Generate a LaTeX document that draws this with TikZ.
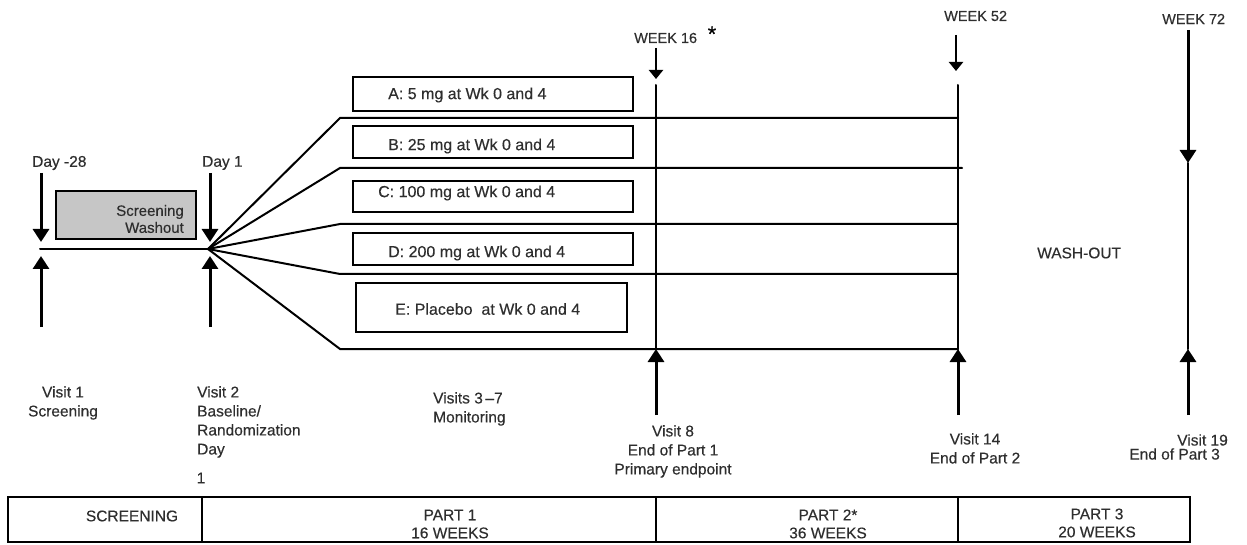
\documentclass[tikz,border=0pt]{standalone}
\usepackage{fontspec}
\setmainfont{Liberation Sans}[FakeBold=0.35]
\usetikzlibrary{arrows.meta}
\begin{document}
\begin{tikzpicture}[x=1pt,y=-1pt,
  ln/.style={line width=2pt, line cap=round},
  bigarrow/.style={line width=3pt,-{Triangle[length=13pt,width=16pt]}},
  smallarrow/.style={line width=2.6pt,-{Triangle[length=9pt,width=14pt]}},
  txt/.style={font=\fontsize{15.5}{19}\selectfont, text=black!82, inner sep=0pt},
  wtxt/.style={font=\fontsize{14.5}{16}\selectfont, text=black!82, inner sep=0pt},
  btxt/.style={font=\fontsize{16}{18}\selectfont, text=black!82, inner sep=0pt},
  armbox/.style={draw, line width=2pt, inner sep=0pt},
  tabtxt/.style={font=\fontsize{15.5}{18}\selectfont, text=black!82, inner sep=0pt, align=center}]
\useasboundingbox (0,0) rectangle (1247,545);

% ---- coordinates
\coordinate (start) at (40,249);
\coordinate (hub) at (208,249);
\coordinate (fA) at (340,118); \coordinate (eA) at (958,118);
\coordinate (fB) at (340,168); \coordinate (eB) at (962,168);
\coordinate (fC) at (340,224); \coordinate (eC) at (958,224);
\coordinate (fD) at (340,274); \coordinate (eD) at (958,274);
\coordinate (fE) at (340,349); \coordinate (eE) at (958,349);

% ---- main lines
\draw[ln] (start) -- (hub);
\draw[ln] (hub) -- (fA) -- (eA);
\draw[ln] (hub) -- (fB) -- (eB);
\draw[ln] (hub) -- (fC) -- (eC);
\draw[ln] (hub) -- (fD) -- (eD);
\draw[ln] (hub) -- (fE) -- (eE);

% ---- screening washout box
\node[armbox, fill=gray!45, minimum width=140pt, minimum height=48pt] (swbox) at (126,215) {};
\node[txt, align=right, anchor=east, font=\fontsize{15}{17}\selectfont] (swtxt) at (184,219) {Screening\\Washout};

% ---- arm boxes
\node[armbox, minimum width=280pt, minimum height=34pt] (boxA) at (493,94) {};
\node[btxt, anchor=west] (tA) at (388,95) {A: 5 mg at Wk 0 and 4};
\node[armbox, minimum width=280pt, minimum height=32pt] (boxB) at (493,142) {};
\node[btxt, anchor=west] (tB) at (388,146) {B: 25 mg at Wk 0 and 4};
\node[armbox, minimum width=280pt, minimum height=31pt] (boxC) at (493,196.5) {};
\node[btxt, anchor=west] (tC) at (378,193) {C: 100 mg at Wk 0 and 4};
\node[armbox, minimum width=280pt, minimum height=32pt] (boxD) at (493,249) {};
\node[btxt, anchor=west] (tD) at (388,253) {D: 200 mg at Wk 0 and 4};
\node[armbox, minimum width=271pt, minimum height=49pt] (boxE) at (491.5,307.5) {};
\node[btxt, anchor=west] (tE) at (395,309) {E: Placebo\ \ at Wk 0 and 4};

% ---- day arrows
\node[txt, anchor=west] (d28) at (32,163) {Day -28};
\coordinate (d28a) at (41,173); \coordinate (d28b) at (41,242);
\coordinate (d28c) at (41,327); \coordinate (d28d) at (41,256);
\draw[bigarrow] (d28a) -- (d28b);
\draw[bigarrow] (d28c) -- (d28d);
\node[txt, anchor=west] (d1) at (202,163) {Day 1};
\coordinate (d1a) at (210,173); \coordinate (d1b) at (210,242);
\coordinate (d1c) at (210,327); \coordinate (d1d) at (210,256);
\draw[bigarrow] (d1a) -- (d1b);
\draw[bigarrow] (d1c) -- (d1d);

% ---- week 16
\node[wtxt, anchor=west] (w16) at (634,38) {WEEK 16};
\node[inner sep=0pt, font=\fontsize{22}{22}\selectfont] (ast) at (712,34) {*};
\coordinate (w16a) at (656,48); \coordinate (w16b) at (656,79);
\draw[smallarrow] (w16a) -- (w16b);
\coordinate (w16t) at (656,85); \coordinate (w16m) at (656,349);
\draw[ln] (w16t) -- (w16m);
\coordinate (w16c) at (656,415);
\draw[bigarrow] (w16c) -- (w16m);

% ---- week 52
\node[wtxt, anchor=west] (w52) at (944,16) {WEEK 52};
\coordinate (w52a) at (956,35); \coordinate (w52b) at (956,71);
\draw[smallarrow] (w52a) -- (w52b);
\coordinate (w52t) at (958,85); \coordinate (w52m) at (958,349);
\draw[ln] (w52t) -- (w52m);
\coordinate (w52c) at (958,415);
\draw[bigarrow] (w52c) -- (w52m);

% ---- week 72
\node[wtxt, anchor=west] (w72) at (1162,19) {WEEK 72};
\coordinate (w72a) at (1188,30); \coordinate (w72b) at (1188,163);
\coordinate (w72m) at (1188,349);
\draw[bigarrow] (w72a) -- (w72b);
\draw[ln] (w72b) -- (w72m);
\coordinate (w72c) at (1188,415);
\draw[bigarrow] (w72c) -- (w72m);

\node[txt, anchor=west, font=\fontsize{15.5}{16}\selectfont] (wash) at (1037,253) {WASH-OUT};

% ---- visit labels
\node[txt, align=center, anchor=north] (v1) at (63,386) {Visit 1\\Screening};
\node[txt, align=left, anchor=north west] (v2) at (197,386) {Visit 2\\Baseline/\\Randomization\\Day};
\node[txt] (v2day) at (201,478) {1};
\node[txt, align=left, anchor=north west] (v37) at (433,392) {Visits 3\,–7\\Monitoring};
\node[txt, align=center, anchor=north] (v8) at (673,425) {Visit 8\\End of Part 1\\Primary endpoint};
\node[txt, align=center, anchor=north] (v14) at (975,433) {Visit 14\\End of Part 2};
\node[txt, anchor=east] (v19a) at (1228,440) {Visit 19};
\node[txt, anchor=east] (v19b) at (1220,454) {End of Part 3};

% ---- bottom table
\draw[line width=2.4pt] (8,497) rectangle (1190,542);
\coordinate (t1a) at (202,497); \coordinate (t1b) at (202,542);
\coordinate (t2a) at (656,497); \coordinate (t2b) at (656,542);
\coordinate (t3a) at (958,497); \coordinate (t3b) at (958,542);
\draw[line width=2.4pt] (t1a) -- (t1b);
\draw[line width=2.4pt] (t2a) -- (t2b);
\draw[line width=2.4pt] (t3a) -- (t3b);
\node[tabtxt] (s0) at (132,516) {SCREENING};
\node[tabtxt] (s1) at (450,524) {PART 1\\16 WEEKS};
\node[tabtxt] (s2) at (828,524) {PART 2*\\36 WEEKS};
\node[tabtxt] (s3) at (1097,523) {PART 3\\20 WEEKS};
\end{tikzpicture}
\end{document}
